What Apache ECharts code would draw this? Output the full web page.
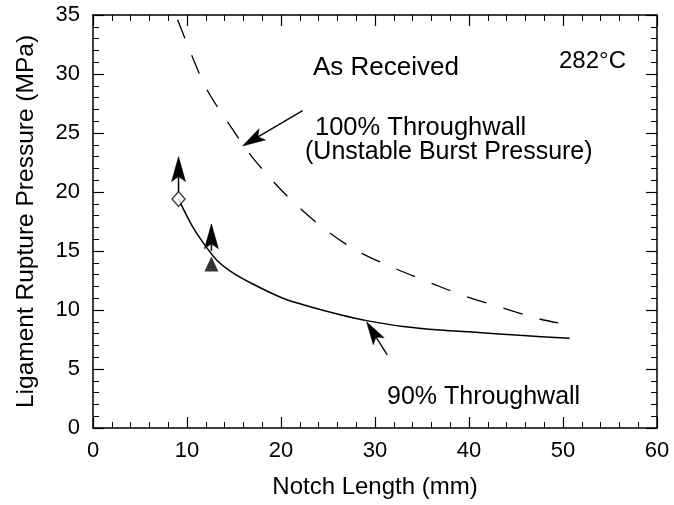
<!DOCTYPE html>
<html>
<head>
<meta charset="utf-8">
<script src="https://cdn.jsdelivr.net/npm/echarts@6/dist/echarts.min.js"></script>
<style>
html,body{margin:0;padding:0;background:#fff;}
#c{width:674px;height:505px;}
</style>
</head>
<body>
<div id="c"></div>
<script>
// ---- data ----
var xTicks = [0, 10, 20, 30, 40, 50, 60];
var yTicks = [0, 5, 10, 15, 20, 25, 30, 35];

// 100% throughwall (unstable burst pressure), dashed curve
var burstX = [9.0, 10.6, 12.1, 14.6, 17.2, 20.6, 24.4, 28.1, 31.9, 35.9, 39.5, 43.5, 47.2, 49.5];
var burstY = [34.6, 31.4, 28.7, 25.6, 22.7, 19.7, 17.0, 15.0, 13.6, 12.3, 11.2, 10.2, 9.3, 8.9];

// 90% throughwall, solid curve
var wall90X = [9.1, 10.5, 11.9, 13.2, 14.6, 17.0, 20.2, 23.0, 26.3, 29.1, 33.0, 36.9, 41.0, 45.4, 50.7];
var wall90Y = [19.4, 17.2, 15.5, 14.2, 13.3, 12.2, 11.0, 10.3, 9.6, 9.1, 8.6, 8.3, 8.1, 7.85, 7.6];

// test points
var diamondPts = [[9.1, 19.4]];
var trianglePts = [[12.6, 13.9]];

// arrows: [fromX, fromY, toX, toY]
var upArrows = [
  [9.1, 20.0, 9.1, 23.0],
  [12.6, 15.0, 12.6, 17.3]
];
var labelArrows = [
  [22.3, 26.9, 15.9, 23.9],
  [31.3, 6.2, 29.1, 9.0]
];

function pairs(xs, ys) { return xs.map(function (x, i) { return [x, ys[i]]; }); }

var FONT = '"Liberation Sans", Arial, Helvetica, sans-serif';
var chart = echarts.init(document.getElementById('c'), null, {renderer: 'canvas'});

var axisCommon = {
  type: 'value',
  axisLine: {show: true, onZero: false, lineStyle: {color: '#000', width: 1.5}},
  axisTick: {show: true, inside: true, length: 11, lineStyle: {color: '#000', width: 1.2}},
  minorTick: {show: true, splitNumber: 5, length: 6, lineStyle: {color: '#000', width: 1}},
  splitLine: {show: false},
  minorSplitLine: {show: false}
};

function xAx(pos, showLabel) {
  return Object.assign({}, axisCommon, {
    position: pos, min: xTicks[0], max: xTicks[xTicks.length - 1], interval: 10,
    axisLabel: {show: showLabel, color: '#000', fontSize: 22, fontFamily: FONT, margin: 12},
    name: showLabel ? 'Notch Length (mm)' : '',
    nameLocation: 'middle', nameGap: 47,
    nameTextStyle: {color: '#000', fontSize: 24, fontFamily: FONT}
  });
}
function yAx(pos, showLabel) {
  return Object.assign({}, axisCommon, {
    position: pos, min: yTicks[0], max: yTicks[yTicks.length - 1], interval: 5,
    axisLabel: {show: showLabel, color: '#000', fontSize: 22, fontFamily: FONT, margin: 13},
    name: showLabel ? 'Ligament Rupture Pressure (MPa)' : '',
    nameLocation: 'middle', nameGap: 54,
    nameTextStyle: {color: '#000', fontSize: 24.5, fontFamily: FONT}
  });
}

function arrowRenderer(headLen, headW, lw) {
  return function (params, api) {
    var p1 = api.coord([api.value(0), api.value(1)]);
    var p2 = api.coord([api.value(2), api.value(3)]);
    var dx = p2[0] - p1[0], dy = p2[1] - p1[1];
    var len = Math.sqrt(dx * dx + dy * dy) || 1;
    var ux = dx / len, uy = dy / len;
    var nx = -uy, ny = ux;
    var bx = p2[0] - ux * headLen, by = p2[1] - uy * headLen;
    var notch = [p2[0] - ux * (headLen - 5), p2[1] - uy * (headLen - 5)];
    return {
      type: 'group',
      children: [
        {type: 'line', shape: {x1: p1[0], y1: p1[1], x2: notch[0], y2: notch[1]},
         style: {stroke: '#000', lineWidth: lw}},
        {type: 'polygon', shape: {points: [
          [p2[0], p2[1]],
          [bx + nx * headW / 2, by + ny * headW / 2],
          notch,
          [bx - nx * headW / 2, by - ny * headW / 2]
        ]}, style: {fill: '#000', stroke: '#000', lineWidth: 0.5}}
      ]
    };
  };
}

var option = {
  backgroundColor: '#fff',
  animation: false,
  grid: {left: 93, right: 17, top: 15, bottom: 77, containLabel: false},
  xAxis: [xAx('bottom', true), xAx('top', false)],
  yAxis: [yAx('left', true), yAx('right', false)],
  series: [
    {
      type: 'line', name: '100% Throughwall', data: pairs(burstX, burstY),
      smooth: 0.3, showSymbol: false, symbol: 'none',
      lineStyle: {color: '#000', width: 1.3, type: [20, 18]}
    },
    {
      type: 'line', name: '90% Throughwall', data: pairs(wall90X, wall90Y),
      smooth: 0.3, showSymbol: false, symbol: 'none',
      lineStyle: {color: '#000', width: 1.5}
    },
    {
      type: 'custom', z: 4, clip: false, data: upArrows,
      encode: {x: [0, 2], y: [1, 3]},
      renderItem: arrowRenderer(25, 14, 1.5)
    },
    {
      type: 'custom', z: 4, clip: false, data: labelArrows,
      encode: {x: [0, 2], y: [1, 3]},
      renderItem: arrowRenderer(23, 13, 1.3)
    },
    {
      type: 'scatter', data: diamondPts, symbol: 'diamond', symbolSize: [13, 15], z: 5,
      itemStyle: {color: '#fff', borderColor: '#000', borderWidth: 1.3}
    },
    {
      type: 'scatter', data: trianglePts, symbol: 'triangle', symbolSize: [14, 15], z: 5,
      itemStyle: {color: '#000'}
    }
  ],
  graphic: [
    {type: 'text', x: 313, y: 55, style: {text: 'As Received', font: '26px ' + FONT, fill: '#000', textBaseline: 'alphabetic'}},
    {type: 'text', x: 559, y: 49, style: {text: '282°C', font: '24px ' + FONT, fill: '#000', textBaseline: 'alphabetic'}},
    {type: 'text', x: 315, y: 115, style: {text: '100% Throughwall', font: '25.5px ' + FONT, fill: '#000', textBaseline: 'alphabetic'}},
    {type: 'text', x: 305, y: 140, style: {text: '(Unstable Burst Pressure)', font: '25px ' + FONT, fill: '#000', textBaseline: 'alphabetic'}},
    {type: 'text', x: 387, y: 385, style: {text: '90% Throughwall', font: '25px ' + FONT, fill: '#000', textBaseline: 'alphabetic'}}
  ]
};
chart.setOption(option);
</script>
</body>
</html>
